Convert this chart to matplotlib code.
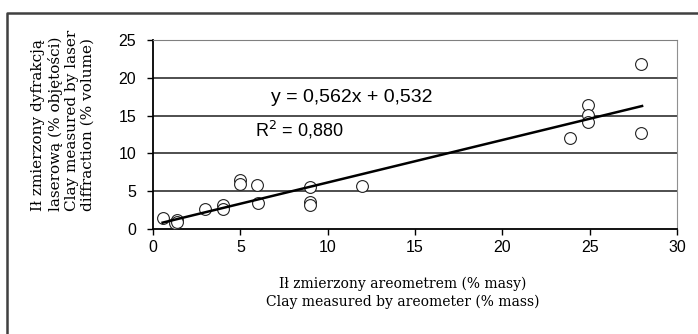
import matplotlib
matplotlib.use('Agg')
import matplotlib.pyplot as plt
from matplotlib.lines import Line2D

# clay content: areometer (x, % mass) vs laser diffraction (y, % volume)
areometer = [0.55, 1.25, 1.35, 1.4, 3.0, 4.0, 4.0, 5.0, 5.0, 5.95, 6.0,
             9.0, 9.0, 9.0, 11.95, 23.9, 24.9, 24.9, 24.9, 27.95, 27.95]
laser = [1.4, 0.8, 1.2, 0.9, 2.6, 3.2, 2.6, 6.5, 6.0, 5.8, 3.4,
         5.6, 3.6, 3.2, 5.7, 12.1, 16.4, 15.1, 14.1, 21.8, 12.7]

slope, intercept = 0.562, 0.532
fit_x = [0.55, 28.0]
eq_text = 'y = 0,562x + 0,532'
r2_text = 'R$^2$ = 0,880'

xticks = [0, 5, 10, 15, 20, 25, 30]
yticks = [0, 5, 10, 15, 20, 25]

fig = plt.figure(figsize=(6.98, 3.34), dpi=100)
ax = fig.add_axes([153 / 698, 1 - 229 / 334, 524 / 698, 189 / 334])

for y in yticks[1:]:
    ax.axhline(y, color='#404040', lw=1.3, zorder=1)

ax.plot(areometer, laser, 'o', ms=8.5, mfc='white', mec='#222222', mew=0.8,
        ls='none', zorder=3)
ax.plot(fit_x, [slope * v + intercept for v in fit_x], color='black', lw=1.8, zorder=4)

ax.set_xlim(0, 30)
ax.set_ylim(0, 25)
ax.set_xticks(xticks)
ax.set_yticks(yticks)
ax.tick_params(direction='out', length=4, width=1, labelsize=11.5, colors='black')
ax.tick_params(axis='x', pad=4)
ax.tick_params(axis='y', pad=8)
for lbl in ax.get_xticklabels() + ax.get_yticklabels():
    lbl.set_family('Liberation Sans')

ax.spines['left'].set_color('black')
ax.spines['bottom'].set_color('black')
ax.spines['left'].set_linewidth(1.3)
ax.spines['bottom'].set_linewidth(1.3)
ax.spines['top'].set_color('#808080')
ax.spines['right'].set_color('#909090')

ax.text(352 / 698, 1 - 98 / 334, eq_text, transform=fig.transFigure,
        fontsize=14, family='Liberation Sans', va='center', ha='center')
ax.text(255 / 698, 1 - 130 / 334, r2_text, transform=fig.transFigure,
        fontsize=13, family='Liberation Sans', va='center', ha='left')

fig.text(403 / 698, 1 - 293 / 334,
         'Ił zmierzony areometrem (% masy)\nClay measured by areometer (% mass)',
         ha='center', va='center', fontsize=10, family='DejaVu Serif',
         linespacing=1.3)
fig.text(63 / 698, 1 - 120 / 334,
         'Ił zmierzony dyfrakcją\nlaserową (% objętości)\nClay measured by laser\ndiffraction (% volume)',
         ha='center', va='center', rotation=90, multialignment='left',
         fontsize=11, family='DejaVu Serif', linespacing=1.18)

# outer chart border (only top and left edges visible)
fig.add_artist(Line2D([7 / 698, 7 / 698, 1.0], [0.0, 1 - 13 / 334, 1 - 13 / 334],
                      transform=fig.transFigure, color='#404040', lw=1.8))

fig.savefig('out.png', dpi=100)
